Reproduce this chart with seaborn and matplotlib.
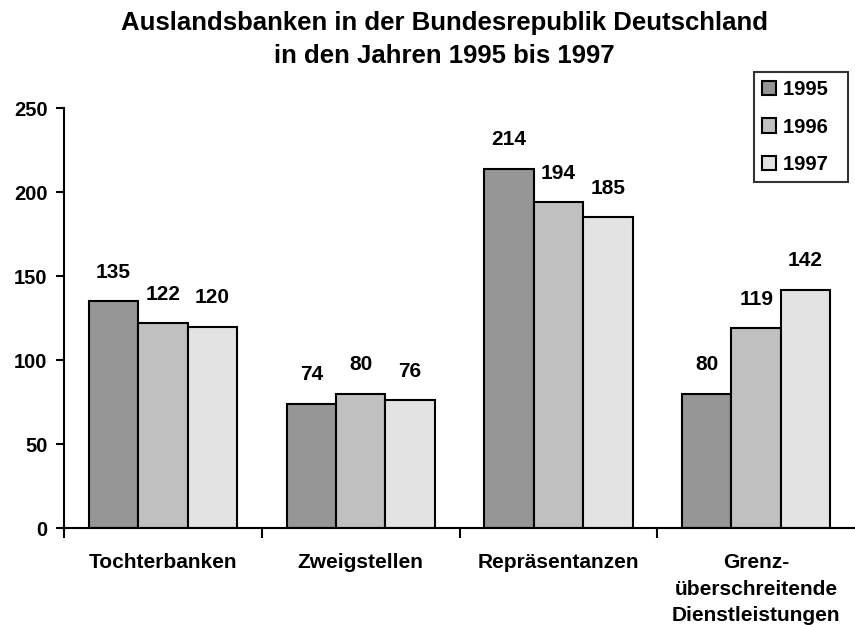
import pandas as pd
import seaborn as sns
import matplotlib.pyplot as plt
from matplotlib.ticker import FixedLocator

categories = ['Tochterbanken', 'Zweigstellen', 'Repräsentanzen',
              'Grenz-\nüberschreitende\nDienstleistungen']
years = ['1995', '1996', '1997']
v1995 = [135, 74, 214, 80]
v1996 = [122, 80, 194, 119]
v1997 = [120, 76, 185, 142]
colors = ['#969696', '#c0c0c0', '#e3e3e3']

rows = []
for yr, vals in zip(years, [v1995, v1996, v1997]):
    for c, v in zip(categories, vals):
        rows.append({'kat': c, 'jahr': yr, 'anzahl': v})
df = pd.DataFrame(rows)

sns.set_style('white')
plt.rcParams['font.family'] = ['Liberation Sans', 'DejaVu Sans']
plt.rcParams['font.weight'] = 'bold'
plt.rcParams['text.color'] = 'black'
plt.rcParams['xtick.color'] = 'black'
plt.rcParams['ytick.color'] = 'black'
plt.rcParams['axes.labelcolor'] = 'black'

fig = plt.figure(figsize=(8.55, 6.25), dpi=100)
ax = fig.add_axes([0.075, 0.155, 0.925, 0.672])

sns.barplot(data=df, x='kat', y='anzahl', hue='jahr', palette=colors,
            width=0.75, edgecolor='black', linewidth=1.5, ax=ax, saturation=1)

for cont in ax.containers:
    ax.bar_label(cont, padding=14, fontsize=15, fontweight='bold', color='black')

ax.set_ylim(0, 250)
ax.set_yticks([0, 50, 100, 150, 200, 250])
ax.set_xlim(-0.5, 3.5)
ax.set_xlabel('')
ax.set_ylabel('')
sns.despine(ax=ax)
for s in ['left', 'bottom']:
    ax.spines[s].set_linewidth(1.5)
    ax.spines[s].set_color('black')
ax.tick_params(axis='y', length=6, width=1.5, direction='out', left=True,
               labelsize=14.5, pad=6, colors='black')
ax.tick_params(axis='x', which='major', length=0, labelsize=15, pad=18,
               colors='black')
ax.xaxis.set_minor_locator(FixedLocator([-0.5, 0.5, 1.5, 2.5]))
ax.tick_params(axis='x', which='minor', length=7, width=1.5, direction='out',
               bottom=True, color='black')
for t in ax.get_yticklabels() + ax.get_xticklabels():
    t.set_fontweight('bold')
for t in ax.get_xticklabels():
    t.set_linespacing(1.5)

leg = ax.legend(loc='upper right', bbox_to_anchor=(0.991, 1.086), frameon=True,
                fancybox=False, edgecolor='black', fontsize=14.5,
                handlelength=0.7, handleheight=0.7, handletextpad=0.35,
                labelspacing=0.9, borderpad=0.42, borderaxespad=0, title=None)
leg.get_frame().set_linewidth(1.5)
for t in leg.get_texts():
    t.set_fontweight('bold')
    t.set_color('black')
    t.set_text(t.get_text() + '  ')

fig.suptitle('Auslandsbanken in der Bundesrepublik Deutschland\nin den Jahren 1995 bis 1997',
             x=0.52, y=0.982, fontsize=18.5, fontweight='bold', linespacing=1.45,
             color='black')

fig.savefig('out.png', dpi=100)
